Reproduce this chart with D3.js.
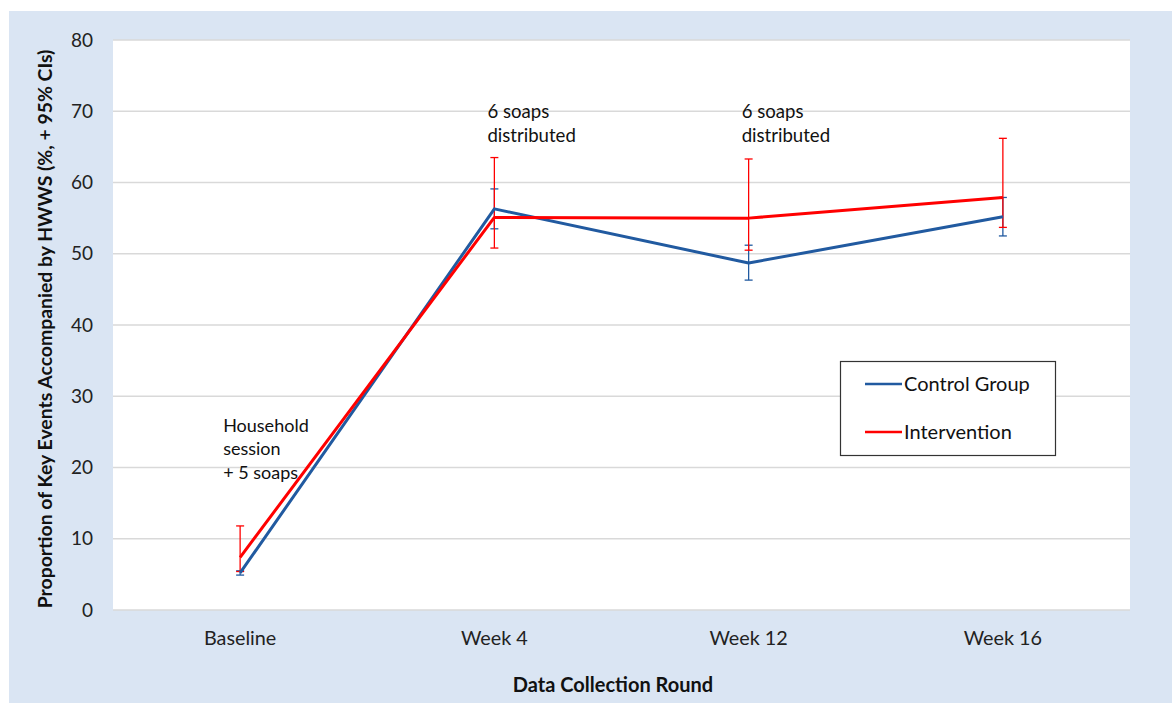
<!DOCTYPE html>
<html>
<head>
<meta charset="utf-8">
<script src="https://cdn.jsdelivr.net/npm/d3@7"></script>
<style>
  html, body { margin: 0; padding: 0; background: #fff; }
  svg { display: block; font-family: Lato, "Open Sans", sans-serif; }
</style>
</head>
<body>
<svg id="chart" width="1172" height="703"></svg>
<script>
// Data collection rounds
const rounds = ["Baseline", "Week 4", "Week 12", "Week 16"];

// Proportion of key events with handwashing with soap (%)
const controlValues = [5.2, 56.3, 48.7, 55.2];
const controlLower  = [4.9, 53.5, 46.3, 52.5];
const controlUpper  = [5.5, 59.1, 51.2, 57.9];

const interventionValues = [7.4, 55.1, 55.0, 57.9];
const interventionLower  = [5.4, 50.8, 50.5, 53.7];
const interventionUpper  = [11.8, 63.5, 63.3, 66.2];

const yTicks = [0, 10, 20, 30, 40, 50, 60, 70, 80];

const seriesNames = ["Control Group", "Intervention"];
const seriesColors = ["#215aa0", "#ff0000"];

// Notes placed above each round
const notes = [
  { round: "Baseline", value: 25.0, lines: ["Household", "session", "+ 5 soaps"] },
  { round: "Week 4", value: 69.0, lines: ["6 soaps", "distributed"] },
  { round: "Week 12", value: 69.0, lines: ["6 soaps", "distributed"] }
];

const series = [
  { name: seriesNames[0], color: seriesColors[0], values: controlValues, lo: controlLower, hi: controlUpper },
  { name: seriesNames[1], color: seriesColors[1], values: interventionValues, lo: interventionLower, hi: interventionUpper }
];

const svg = d3.select("#chart");
const W = 1172, H = 703;
const plot = { left: 113, top: 40, right: 1130, bottom: 610 };

// Outer panel
svg.append("rect").attr("x", 9).attr("y", 11).attr("width", W - 9).attr("height", H - 11)
  .attr("fill", "#dae5f3");
// Plot area
svg.append("rect").attr("x", plot.left).attr("y", plot.top)
  .attr("width", plot.right - plot.left).attr("height", plot.bottom - plot.top)
  .attr("fill", "#ffffff");

const x = d3.scaleBand().domain(rounds).range([plot.left, plot.right]);
const xc = r => x(r) + x.bandwidth() / 2;
const y = d3.scaleLinear().domain([0, 80]).range([plot.bottom, plot.top]);

// Gridlines
svg.append("g").selectAll("line").data(yTicks).join("line")
  .attr("x1", plot.left).attr("x2", plot.right)
  .attr("y1", d => y(d)).attr("y2", d => y(d))
  .attr("stroke", "#d9d9d9").attr("stroke-width", 1.3);

// Y axis labels
const yAxis = d3.axisLeft(y).tickValues(yTicks).tickSize(0).tickPadding(20);
const gy = svg.append("g").attr("transform", `translate(${plot.left},0)`).call(yAxis);
gy.select(".domain").remove();
gy.selectAll("text").attr("font-size", 19).attr("fill", "#222").style("font-family", "Lato, sans-serif");

// X axis labels
const xAxis = d3.axisBottom(x).tickSize(0).tickPadding(21);
const gx = svg.append("g").attr("transform", `translate(0,${plot.bottom})`).call(xAxis);
gx.select(".domain").remove();
gx.selectAll("text").attr("font-size", 19.8).attr("fill", "#222").style("font-family", "Lato, sans-serif");

// Axis titles
svg.append("text")
  .attr("transform", `translate(52,${(plot.top + plot.bottom) / 2 + 4}) rotate(-90)`)
  .attr("text-anchor", "middle").attr("font-size", 19.4).attr("font-weight", "bold").attr("fill", "#111")
  .text("Proportion of Key Events Accompanied by HWWS (%, + 95% CIs)");
svg.append("text")
  .attr("x", 613).attr("y", 692)
  .attr("text-anchor", "middle").attr("font-size", 20).attr("font-weight", "bold").attr("fill", "#111")
  .text("Data Collection Round");

// Error bars (drawn under the lines)
const cap = 4;
series.forEach(s => {
  const g = svg.append("g").attr("stroke", s.color).attr("stroke-width", 1.3).attr("fill", "none");
  rounds.forEach((r, i) => {
    const cx = xc(r);
    g.append("line").attr("x1", cx).attr("x2", cx).attr("y1", y(s.lo[i])).attr("y2", y(s.hi[i]));
    g.append("line").attr("x1", cx - cap).attr("x2", cx + cap).attr("y1", y(s.lo[i])).attr("y2", y(s.lo[i]));
    g.append("line").attr("x1", cx - cap).attr("x2", cx + cap).attr("y1", y(s.hi[i])).attr("y2", y(s.hi[i]));
  });
});

// Series lines
const line = d3.line().x((d, i) => xc(rounds[i])).y(d => y(d));
series.forEach(s => {
  svg.append("path").datum(s.values)
    .attr("d", line).attr("fill", "none")
    .attr("stroke", s.color).attr("stroke-width", 3)
    .attr("stroke-linejoin", "round");
});

// Notes
notes.forEach(n => {
  const big = n.round !== "Baseline";
  const tx = xc(n.round) - (big ? 7 : 17);
  const t = svg.append("text")
    .attr("x", tx).attr("y", y(n.value))
    .attr("font-size", big ? 18.6 : 18).attr("fill", "#111");
  n.lines.forEach((l, i) => {
    t.append("tspan").attr("x", tx)
      .attr("dy", i === 0 ? 0 : (big ? 24 : 23.5)).text(l);
  });
});

// Legend
const lg = svg.append("g");
lg.append("rect").attr("x", 840.5).attr("y", 361.5).attr("width", 215).attr("height", 94)
  .attr("fill", "#fff").attr("stroke", "#333").attr("stroke-width", 1.2);
series.forEach((s, i) => {
  const ly = 384 + i * 48;
  lg.append("line").attr("x1", 865).attr("x2", 902).attr("y1", ly).attr("y2", ly)
    .attr("stroke", s.color).attr("stroke-width", 2.5);
  lg.append("text").attr("x", 904).attr("y", ly + 7)
    .attr("font-size", 20).attr("fill", "#111").text(s.name);
});
</script>
</body>
</html>
